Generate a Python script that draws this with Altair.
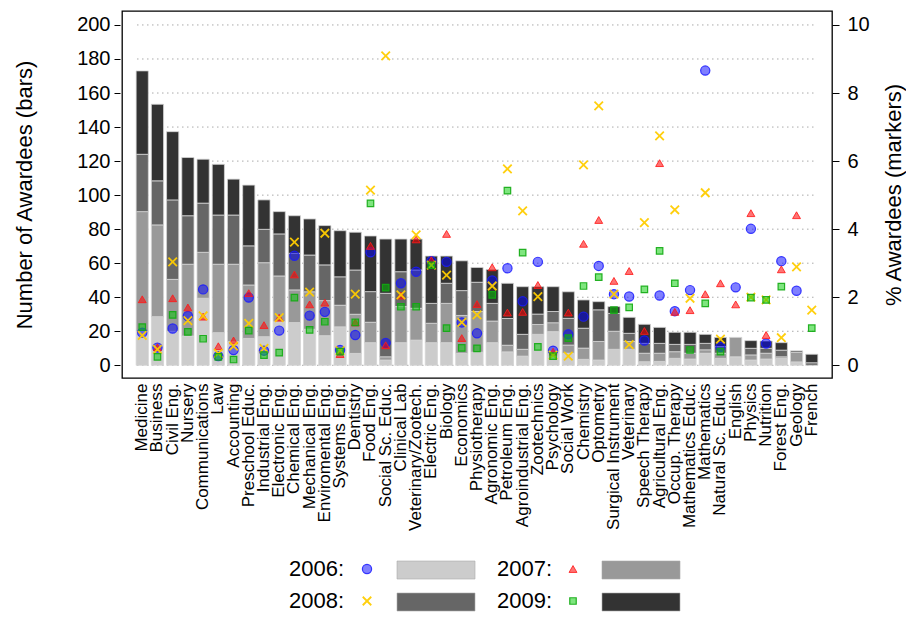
import altair as alt
import pandas as pd

categories = [
    "Medicine", "Business", "Civil Eng.", "Nursery", "Communications", "Law",
    "Accounting", "Preschool Educ.", "Industrial Eng.", "Electronic Eng.",
    "Chemical Eng.", "Mechanical Eng.", "Enviromental Eng.", "Systems Eng.",
    "Dentistry", "Food Eng.", "Social Sc. Educ.", "Clinical Lab",
    "Veterinary/Zootech.", "Electric Eng.", "Biology", "Economics",
    "Physiotherapy", "Agronomic Eng.", "Petroleum Eng.", "Agroindustrial Eng.",
    "Zootechnics", "Psychology", "Social Work", "Chemistry", "Optometry",
    "Surgical Instrument", "Veterinary", "Speech Therapy", "Agricultural Eng.",
    "Occup. Therapy", "Mathematics Educ.", "Mathematics", "Natural Sc. Educ.",
    "English", "Physics", "Nutrition", "Forest Eng.", "Geology", "French",
]

years = ["2006", "2007", "2008", "2009"]

# number of awardees (stacked bars)
n2006 = [19.8, 28.6, 20.0, 17.2, 39.4, 19.2, 13.9, 15.8, 16.8, 25.6, 25.1, 21.2,
         17.4, 22.6, 7.0, 13.3, 3.1, 13.3, 14.8, 13.3, 13.3, 7.1, 7.7, 13.3,
         7.9, 5.4, 18.2, 19.8, 7.1, 3.5, 3.1, 9.4, 9.4, 2.1, 2.3, 4.1, 3.7,
         7.1, 4.1, 5.0, 3.1, 3.7, 4.1, 2.0, 0.0]
n2007 = [70.5, 53.9, 30.5, 42.2, 27.0, 40.2, 45.5, 31.4, 43.5, 26.9, 19.2, 22.0,
         20.6, 12.7, 23.0, 12.0, 1.9, 21.2, 18.7, 11.4, 23.1, 22.2, 23.9, 12.7,
         3.9, 4.0, 5.8, 5.2, 4.8, 6.6, 10.9, 10.6, 4.6, 5.0, 4.8, 3.9, 3.4,
         2.0, 3.0, 11.4, 3.0, 3.4, 0.9, 5.5, 0.0]
n2008 = [33.7, 25.9, 46.7, 28.5, 28.9, 28.9, 28.9, 23.0, 19.6, 24.7, 21.5, 21.6,
         21.0, 16.7, 26.0, 18.0, 37.3, 20.5, 22.5, 11.7, 11.8, 14.6, 17.2, 10.4,
         15.7, 8.8, 6.1, 6.6, 15.7, 11.7, 18.6, 10.5, 4.8, 5.8, 5.8, 4.3, 5.2,
         3.8, 3.9, 0.0, 3.9, 2.9, 3.9, 1.0, 1.5]
n2009 = [49.0, 45.0, 40.1, 34.2, 25.8, 29.8, 21.1, 35.7, 17.3, 13.1, 22.1, 21.2,
         23.1, 27.1, 22.2, 32.7, 31.9, 19.2, 18.2, 27.8, 16.0, 17.5, 8.7, 19.9,
         20.7, 28.0, 16.1, 14.6, 15.6, 16.6, 4.8, 4.0, 9.4, 11.2, 9.4, 7.1, 7.1,
         5.3, 5.4, 0.0, 4.5, 4.3, 4.4, 0.0, 5.0]

# % awardees (markers)
p2006 = [0.96, 0.52, 1.08, 1.45, 2.23, 0.27, 0.45, 1.99, 0.43, 1.02, 3.22, 1.46,
         1.57, 0.45, 0.89, 3.32, 0.66, 2.41, 2.75, 3.06, 3.04, 1.26, 0.94, 2.49,
         2.85, 1.88, 3.04, 0.43, 0.91, 1.43, 2.92, 2.09, 2.02, 0.73, 2.05, 1.59,
         2.21, 8.66, 0.54, 2.29, 4.01, 0.64, 3.06, 2.19, None]
p2007 = [1.94, 0.53, 1.97, 1.70, 1.43, 0.56, 0.73, 2.12, 1.18, 1.40, 2.67, 1.79,
         1.84, 0.33, 1.26, 3.51, 0.59, 2.05, 3.70, 3.09, 3.86, 0.80, 1.80, 2.88,
         1.55, 1.57, 2.36, 0.40, 1.55, 3.57, 4.27, 2.48, 2.77, 1.01, 5.94, 1.57,
         1.62, 2.09, 2.41, 1.79, 4.47, 0.89, 2.82, 4.41, None]
p2008 = [0.88, 0.47, 3.04, 1.31, 1.45, 0.35, 0.56, 1.23, 0.50, 1.40, 3.62, 2.15,
         3.88, 0.43, 2.09, 5.15, 9.09, 2.07, 3.83, 2.94, 2.65, 1.26, 1.48, 2.33,
         5.77, 4.54, 2.02, 0.30, 0.27, 5.89, 7.62, 2.09, 0.61, 4.19, 6.74, 4.57,
         1.97, 5.07, 0.77, None, 2.00, 1.92, 0.81, 2.89, 1.62]
p2009 = [1.12, 0.25, 1.48, 0.98, 0.78, 0.25, 0.17, 1.02, 0.30, 0.37, 1.99, 1.04,
         1.28, 0.40, 1.26, 4.76, 2.28, 1.72, 1.72, 2.94, 1.09, 0.51, 0.50, 2.07,
         5.13, 3.31, 0.54, 0.27, 0.80, 2.33, 2.59, 1.62, 1.70, 2.23, 3.36, 2.41,
         0.45, 1.82, 0.40, None, 1.99, 1.92, 2.31, None, 1.09]

left_ticks = list(range(0, 201, 20))
right_ticks = list(range(0, 11, 2))

legend_col = [0, 1, 0, 1]
legend_row = [0, 0, 1, 1]

# ---------------------------------------------------------------- data frames
counts = [n2006, n2007, n2008, n2009]
pcts = [p2006, p2007, p2008, p2009]

bar_rows = []
for i, cat in enumerate(categories):
    for k, yr in enumerate(years):
        v = counts[k][i]
        if v and v > 0:
            bar_rows.append({"category": cat, "year": yr, "count": v, "yorder": k})
bars_df = pd.DataFrame(bar_rows)

grid_df = pd.DataFrame({"count": left_ticks})

legend_df = pd.DataFrame({
    "year": years,
    "label": [y + ":" for y in years],
    "col": legend_col,
    "row": legend_row,
})

# ---------------------------------------------------------------- styles
FONT = "Liberation Sans"
grays = ["#cccccc", "#999999", "#666666", "#333333"]

x_enc = alt.X(
    "category:N", sort=categories,
    scale=alt.Scale(paddingInner=0.2, paddingOuter=0.93),
    axis=alt.Axis(title=None, labelAngle=270, labelAlign="right",
                  labelBaseline="middle", ticks=False, domain=False,
                  labelPadding=5, labelFontSize=17, labelColor="black",
                  labelFont=FONT, labelOverlap=False, grid=False),
)

y_left_scale = alt.Scale(domain=[-7.46, 208.2], nice=False, zero=False)
y_left_axis = alt.Axis(
    title="Number of Awardees (bars)", values=left_ticks, orient="left",
    grid=False, domain=False, offset=2, tickSize=6, tickColor="black",
    labelFontSize=20, labelColor="black", labelPadding=4, labelFont=FONT,
    titleFontSize=22, titleFontWeight="normal", titleColor="black",
    titleFont=FONT, titlePadding=40,
)
y_left = alt.Y("count:Q", stack="zero", scale=y_left_scale, axis=y_left_axis)

y_right_scale = alt.Scale(domain=[-0.373, 10.41], nice=False, zero=False)
y_right_axis = alt.Axis(
    title="% Awardees (markers)", values=right_ticks, orient="right",
    grid=False, domain=False, offset=0, tickSize=7, tickColor="black",
    labelFontSize=20, labelColor="black", labelPadding=8, labelFont=FONT,
    titleFontSize=22, titleFontWeight="normal", titleColor="black",
    titleFont=FONT, titlePadding=14, titleAngle=270, titleBaseline="top",
)

color_enc = alt.Color("year:N", scale=alt.Scale(domain=years, range=grays),
                      legend=None)

# ---------------------------------------------------------------- layers
grid = alt.Chart(grid_df).mark_rule(
    strokeDash=[1.5, 3.5], color="#aaaaaa", strokeWidth=1
).encode(
    y=alt.Y("count:Q", scale=y_left_scale, axis=y_left_axis),
    x=alt.value(15), x2=alt.value(695),
)

bars = alt.Chart(bars_df).mark_bar(
    stroke="#d4d4d4", strokeWidth=0.8
).encode(
    x=x_enc, y=y_left, color=color_enc,
    order=alt.Order("yorder:Q", sort="ascending"),
)

left = alt.layer(grid, bars)

X_PATH = "M-1,-1L1,1M-1,1L1,-1"
marker_styles = {
    "2006": dict(shape="circle", filled=True, fill="#0000ff", fillOpacity=0.5,
                 stroke="#1a1aff", strokeOpacity=0.85, strokeWidth=1.2, size=85),
    "2007": dict(shape="triangle-up", filled=True, fill="#ff0000", fillOpacity=0.55,
                 stroke="#ff1a1a", strokeOpacity=0.85, strokeWidth=1.0, size=62),
    "2008": dict(shape=X_PATH, filled=False, stroke="#ffcc00", strokeOpacity=0.95,
                 strokeWidth=1.8, size=72),
    "2009": dict(shape="square", filled=True, fill="#00cc00", fillOpacity=0.5,
                 stroke="#11aa11", strokeOpacity=0.9, strokeWidth=1.2, size=42),
}

marker_layers = []
legend_marker_layers = []
for k, yr in enumerate(years):
    dfm = pd.DataFrame({"category": categories, "pct": pcts[k]}).dropna()
    st = marker_styles[yr]
    marker_layers.append(
        alt.Chart(dfm).mark_point(opacity=1, **st).encode(
            x=x_enc,
            y=alt.Y("pct:Q", scale=y_right_scale, axis=y_right_axis),
        )
    )
    legend_marker_layers.append(
        alt.Chart(pd.DataFrame({"year": [yr]})).mark_point(opacity=1, **st).encode(
            x=alt.value(245 + legend_col[k] * 206),
            y=alt.value(558 + legend_row[k] * 32),
        )
    )

right = alt.layer(*marker_layers)

legend_base = alt.Chart(legend_df).transform_calculate(
    tx="167 + datum.col * 208",
    ty="558 + datum.row * 32",
    sx="275 + datum.col * 205",
    sx2="353 + datum.col * 205",
    sy="550 + datum.row * 32",
    sy2="568 + datum.row * 32",
)
legend_text = legend_base.mark_text(
    align="left", baseline="middle", fontSize=22, font=FONT, color="black"
).encode(
    x=alt.X("tx:Q", scale=None), y=alt.Y("ty:Q", scale=None), text="label:N"
)
legend_swatch = legend_base.mark_rect(
    stroke="#aaaaaa", strokeWidth=1, strokeOpacity=0.6
).encode(
    x=alt.X("sx:Q", scale=None), x2="sx2:Q",
    y=alt.Y("sy:Q", scale=None), y2="sy2:Q",
    color=color_enc,
)

legend = alt.layer(legend_text, legend_swatch, *legend_marker_layers)

chart = alt.layer(left, right, legend).resolve_scale(
    y="independent"
).properties(
    width=710, height=367,
    padding={"left": 5, "top": 3, "right": 1, "bottom": 1},
).configure(
    font=FONT
).configure_view(
    stroke="black", strokeWidth=1.3
)

chart.save("out.html", embed_options={"renderer": "svg", "actions": False})
